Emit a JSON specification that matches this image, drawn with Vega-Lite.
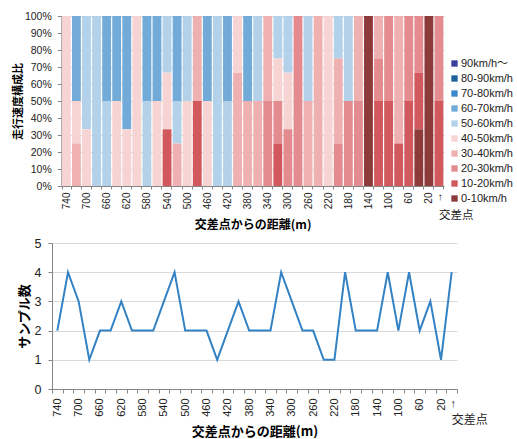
{
  "$schema": "https://vega.github.io/schema/vega-lite/v6.json",
  "background": "white",
  "padding": {"left": 12, "top": 11, "right": 0, "bottom": 0},
  "config": {
    "font": "Liberation Sans, Noto Sans CJK JP",
    "view": {"stroke": null},
    "axis": {
      "domainColor": "#868686",
      "tickColor": "#868686",
      "gridColor": "#d9d9d9",
      "labelColor": "#222222",
      "labelFont": "Liberation Sans, Noto Sans CJK JP",
      "titleColor": "#000000",
      "titleFont": "Noto Sans CJK JP",
      "titleFontWeight": "bold",
      "tickSize": 4
    }
  },
  "datasets": {
    "speed": [
      {"d": 740, "s": "40-50km/h", "n": 2},
      {"d": 720, "s": "60-70km/h", "n": 2}, {"d": 720, "s": "40-50km/h", "n": 1}, {"d": 720, "s": "30-40km/h", "n": 1},
      {"d": 700, "s": "50-60km/h", "n": 2}, {"d": 700, "s": "40-50km/h", "n": 1},
      {"d": 680, "s": "50-60km/h", "n": 1},
      {"d": 660, "s": "60-70km/h", "n": 1}, {"d": 660, "s": "50-60km/h", "n": 1},
      {"d": 640, "s": "60-70km/h", "n": 1}, {"d": 640, "s": "40-50km/h", "n": 1},
      {"d": 620, "s": "60-70km/h", "n": 2}, {"d": 620, "s": "40-50km/h", "n": 1},
      {"d": 600, "s": "40-50km/h", "n": 2},
      {"d": 580, "s": "60-70km/h", "n": 1}, {"d": 580, "s": "50-60km/h", "n": 1},
      {"d": 560, "s": "60-70km/h", "n": 1}, {"d": 560, "s": "40-50km/h", "n": 1},
      {"d": 540, "s": "50-60km/h", "n": 1}, {"d": 540, "s": "40-50km/h", "n": 1}, {"d": 540, "s": "10-20km/h", "n": 1},
      {"d": 520, "s": "60-70km/h", "n": 2}, {"d": 520, "s": "50-60km/h", "n": 1}, {"d": 520, "s": "30-40km/h", "n": 1},
      {"d": 500, "s": "50-60km/h", "n": 1}, {"d": 500, "s": "40-50km/h", "n": 1},
      {"d": 480, "s": "30-40km/h", "n": 1}, {"d": 480, "s": "10-20km/h", "n": 1},
      {"d": 460, "s": "60-70km/h", "n": 1}, {"d": 460, "s": "40-50km/h", "n": 1},
      {"d": 440, "s": "50-60km/h", "n": 1},
      {"d": 420, "s": "60-70km/h", "n": 1}, {"d": 420, "s": "50-60km/h", "n": 1},
      {"d": 400, "s": "40-50km/h", "n": 1}, {"d": 400, "s": "30-40km/h", "n": 2},
      {"d": 380, "s": "60-70km/h", "n": 1}, {"d": 380, "s": "30-40km/h", "n": 1},
      {"d": 360, "s": "50-60km/h", "n": 1}, {"d": 360, "s": "30-40km/h", "n": 1},
      {"d": 340, "s": "30-40km/h", "n": 1}, {"d": 340, "s": "20-30km/h", "n": 1},
      {"d": 320, "s": "50-60km/h", "n": 1}, {"d": 320, "s": "40-50km/h", "n": 1}, {"d": 320, "s": "20-30km/h", "n": 1}, {"d": 320, "s": "10-20km/h", "n": 1},
      {"d": 300, "s": "50-60km/h", "n": 1}, {"d": 300, "s": "40-50km/h", "n": 1}, {"d": 300, "s": "20-30km/h", "n": 1},
      {"d": 280, "s": "20-30km/h", "n": 2},
      {"d": 260, "s": "50-60km/h", "n": 1}, {"d": 260, "s": "30-40km/h", "n": 1},
      {"d": 240, "s": "30-40km/h", "n": 1},
      {"d": 220, "s": "40-50km/h", "n": 1},
      {"d": 200, "s": "50-60km/h", "n": 1}, {"d": 200, "s": "30-40km/h", "n": 2}, {"d": 200, "s": "20-30km/h", "n": 1},
      {"d": 180, "s": "50-60km/h", "n": 1}, {"d": 180, "s": "20-30km/h", "n": 1},
      {"d": 160, "s": "30-40km/h", "n": 1}, {"d": 160, "s": "20-30km/h", "n": 1},
      {"d": 140, "s": "0-10km/h", "n": 2},
      {"d": 120, "s": "30-40km/h", "n": 1}, {"d": 120, "s": "20-30km/h", "n": 1}, {"d": 120, "s": "10-20km/h", "n": 2},
      {"d": 100, "s": "20-30km/h", "n": 1}, {"d": 100, "s": "10-20km/h", "n": 1},
      {"d": 80, "s": "30-40km/h", "n": 3}, {"d": 80, "s": "10-20km/h", "n": 1},
      {"d": 60, "s": "20-30km/h", "n": 1}, {"d": 60, "s": "10-20km/h", "n": 1},
      {"d": 40, "s": "20-30km/h", "n": 1}, {"d": 40, "s": "10-20km/h", "n": 1}, {"d": 40, "s": "0-10km/h", "n": 1},
      {"d": 20, "s": "0-10km/h", "n": 1},
      {"d": 0, "s": "20-30km/h", "n": 2}, {"d": 0, "s": "10-20km/h", "n": 2}
    ],
    "count": [
      {"d": 740, "c": 2}, {"d": 720, "c": 4}, {"d": 700, "c": 3}, {"d": 680, "c": 1}, {"d": 660, "c": 2},
      {"d": 640, "c": 2}, {"d": 620, "c": 3}, {"d": 600, "c": 2}, {"d": 580, "c": 2}, {"d": 560, "c": 2},
      {"d": 540, "c": 3}, {"d": 520, "c": 4}, {"d": 500, "c": 2}, {"d": 480, "c": 2}, {"d": 460, "c": 2},
      {"d": 440, "c": 1}, {"d": 420, "c": 2}, {"d": 400, "c": 3}, {"d": 380, "c": 2}, {"d": 360, "c": 2},
      {"d": 340, "c": 2}, {"d": 320, "c": 4}, {"d": 300, "c": 3}, {"d": 280, "c": 2}, {"d": 260, "c": 2},
      {"d": 240, "c": 1}, {"d": 220, "c": 1}, {"d": 200, "c": 4}, {"d": 180, "c": 2}, {"d": 160, "c": 2},
      {"d": 140, "c": 2}, {"d": 120, "c": 4}, {"d": 100, "c": 2}, {"d": 80, "c": 4}, {"d": 60, "c": 2},
      {"d": 40, "c": 3}, {"d": 20, "c": 1}, {"d": 0, "c": 4}
    ]
  },
  "concat": [
    {
      "width": 392,
      "height": 170,
      "data": {"name": "speed"},
      "layer": [
        {
          "mark": {"type": "bar"},
          "encoding": {
            "x": {
              "field": "d", "type": "ordinal", "sort": "descending",
              "scale": {"type": "band", "paddingInner": 0.12, "paddingOuter": 0.06, "range": [9.3, 392]},
              "axis": {
                "orient": "bottom", "title": null, "labelAngle": -90, "labelFontSize": 10, "labelOverlap": false,
                "labelExpr": "datum.value == 0 ? '→' : (datum.value % 40 == 20 ? datum.label : '')",
                "tickBand": "extent", "tickSize": 3, "labelPadding": 3, "grid": false
              }
            },
            "y": {
              "aggregate": "sum", "field": "n", "type": "quantitative", "stack": "normalize",
              "scale": {"domain": [0, 1]},
              "axis": {
                "values": [0, 0.1, 0.2, 0.3, 0.4, 0.5, 0.6, 0.7, 0.8, 0.9, 1],
                "format": ".0%", "title": "走行速度構成比", "titleFontSize": 11, "offset": -9.3,
                "labelFontSize": 10.5, "labelPadding": 6, "titlePadding": 1, "grid": true
              }
            },
            "color": {
              "field": "s", "type": "nominal",
              "scale": {
                "domain": ["90km/h～", "80-90km/h", "70-80km/h", "60-70km/h", "50-60km/h", "40-50km/h", "30-40km/h", "20-30km/h", "10-20km/h", "0-10km/h"],
                "range": ["#3a3f9e", "#1f6199", "#3a8acb", "#72aad8", "#b3d2ea", "#f7d4d4", "#efb0b1", "#e38b8e", "#d1585d", "#8c3a3a"]
              },
              "legend": {
                "title": null, "orient": "none", "legendX": 397, "legendY": 42,
                "symbolType": "square", "symbolSize": 40, "symbolStrokeWidth": 0,
                "labelFontSize": 11, "labelColor": "#222222", "rowPadding": 3, "labelOffset": 1
              }
            },
            "order": {"field": "s", "sort": "ascending"}
          }
        },
        {
          "mark": {"type": "point", "opacity": 0},
          "encoding": {
            "x": {
              "field": "d", "type": "ordinal", "sort": "descending",
              "axis": {
                "orient": "bottom", "offset": 24, "title": "交差点からの距離(m)", "titleFontSize": 12, "titlePadding": -1,
                "labelExpr": "datum.value == 0 ? '交差点' : ''", "labelAngle": 0, "labelAlign": "left",
                "labelFont": "Noto Sans CJK JP", "labelFontSize": 11.5, "labelOverlap": false,
                "labelPadding": -1, "ticks": false, "tickSize": 0, "domain": false, "grid": false
              }
            }
          }
        }
      ],
      "resolve": {"axis": {"x": "independent"}}
    },
    {
      "width": 405,
      "height": 146,
      "data": {"name": "count"},
      "layer": [
        {
          "mark": {"type": "line", "color": "#3282c4", "strokeWidth": 2},
          "encoding": {
            "x": {
              "field": "d", "type": "ordinal", "sort": "descending", "bandPosition": 0.5,
              "scale": {"type": "band", "paddingInner": 0, "paddingOuter": 0},
              "axis": {
                "orient": "bottom", "title": null, "labelAngle": -90, "labelFontSize": 11, "labelOverlap": false,
                "labelExpr": "datum.value == 0 ? '→' : (datum.value % 40 == 20 ? datum.label : '')",
                "tickBand": "extent", "labelPadding": 5, "grid": false
              }
            },
            "y": {
              "field": "c", "type": "quantitative", "scale": {"domain": [0, 5]},
              "axis": {
                "values": [0, 1, 2, 3, 4, 5], "title": "サンプル数", "titleFontSize": 13,
                "labelFontSize": 12.5, "labelPadding": 7, "titlePadding": 3, "grid": true
              }
            }
          }
        },
        {
          "mark": {"type": "point", "opacity": 0},
          "encoding": {
            "x": {
              "field": "d", "type": "ordinal", "sort": "descending",
              "axis": {
                "orient": "bottom", "offset": 27, "title": "交差点からの距離(m)", "titleFontSize": 13, "titlePadding": 0,
                "labelExpr": "datum.value == 0 ? '交差点' : ''", "labelAngle": 0, "labelAlign": "left",
                "labelFont": "Noto Sans CJK JP", "labelFontSize": 12, "labelOverlap": false,
                "labelPadding": -2, "ticks": false, "tickSize": 0, "domain": false, "grid": false
              }
            }
          }
        }
      ],
      "resolve": {"axis": {"x": "independent"}}
    }
  ],
  "columns": 1,
  "align": "none",
  "spacing": 6
}
